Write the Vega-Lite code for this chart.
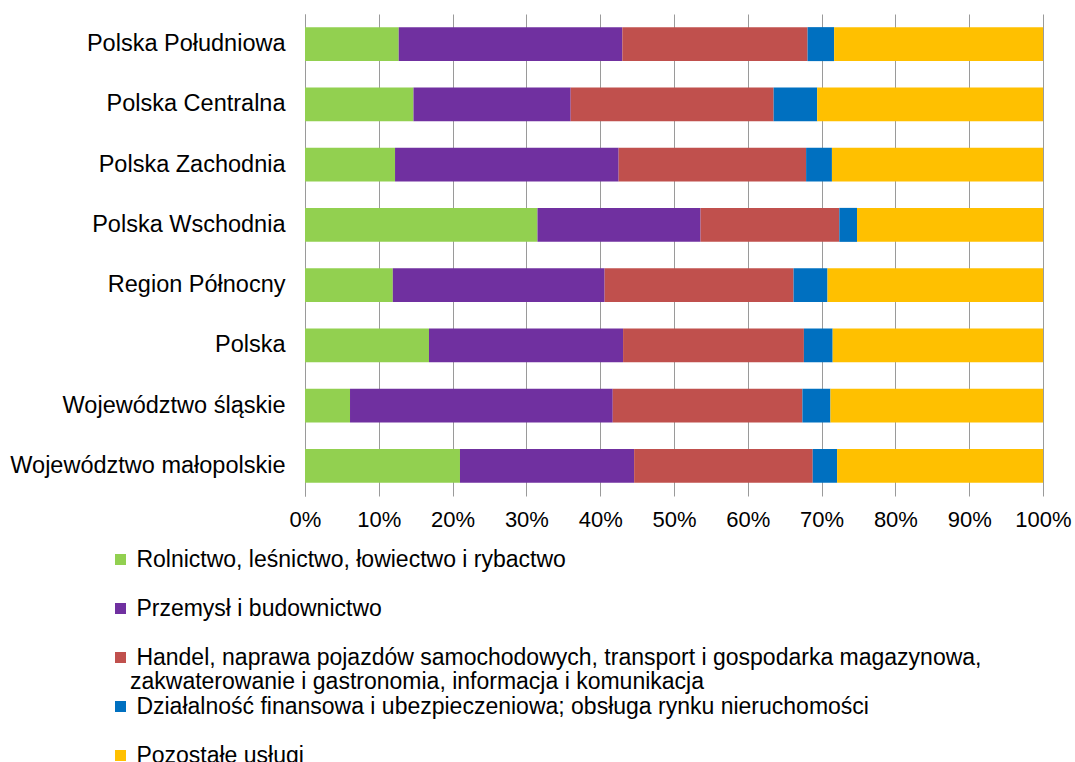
{
  "$schema": "https://vega.github.io/schema/vega-lite/v6.json",
  "width": 738,
  "height": 482,
  "autosize": "none",
  "padding": {"left": 305, "top": 14, "right": 32, "bottom": 266},
  "background": "white",
  "config": {"view": {"stroke": null}, "font": "Liberation Sans"},
  "datasets": {
    "rows": [
      {"region": "Polska Południowa", "k": 1, "sector": "Rolnictwo, leśnictwo, łowiectwo i rybactwo", "value": 12.7},
      {"region": "Polska Południowa", "k": 2, "sector": "Przemysł i budownictwo", "value": 30.3},
      {"region": "Polska Południowa", "k": 3, "sector": "Handel, naprawa pojazdów samochodowych, transport i gospodarka magazynowa, zakwaterowanie i gastronomia, informacja i komunikacja", "value": 25.1},
      {"region": "Polska Południowa", "k": 4, "sector": "Działalność finansowa i ubezpieczeniowa; obsługa rynku nieruchomości", "value": 3.6},
      {"region": "Polska Południowa", "k": 5, "sector": "Pozostałe usługi", "value": 28.3},
      {"region": "Polska Centralna", "k": 1, "sector": "Rolnictwo, leśnictwo, łowiectwo i rybactwo", "value": 14.7},
      {"region": "Polska Centralna", "k": 2, "sector": "Przemysł i budownictwo", "value": 21.3},
      {"region": "Polska Centralna", "k": 3, "sector": "Handel, naprawa pojazdów samochodowych, transport i gospodarka magazynowa, zakwaterowanie i gastronomia, informacja i komunikacja", "value": 27.5},
      {"region": "Polska Centralna", "k": 4, "sector": "Działalność finansowa i ubezpieczeniowa; obsługa rynku nieruchomości", "value": 5.9},
      {"region": "Polska Centralna", "k": 5, "sector": "Pozostałe usługi", "value": 30.6},
      {"region": "Polska Zachodnia", "k": 1, "sector": "Rolnictwo, leśnictwo, łowiectwo i rybactwo", "value": 12.2},
      {"region": "Polska Zachodnia", "k": 2, "sector": "Przemysł i budownictwo", "value": 30.3},
      {"region": "Polska Zachodnia", "k": 3, "sector": "Handel, naprawa pojazdów samochodowych, transport i gospodarka magazynowa, zakwaterowanie i gastronomia, informacja i komunikacja", "value": 25.4},
      {"region": "Polska Zachodnia", "k": 4, "sector": "Działalność finansowa i ubezpieczeniowa; obsługa rynku nieruchomości", "value": 3.5},
      {"region": "Polska Zachodnia", "k": 5, "sector": "Pozostałe usługi", "value": 28.6},
      {"region": "Polska Wschodnia", "k": 1, "sector": "Rolnictwo, leśnictwo, łowiectwo i rybactwo", "value": 31.5},
      {"region": "Polska Wschodnia", "k": 2, "sector": "Przemysł i budownictwo", "value": 22.1},
      {"region": "Polska Wschodnia", "k": 3, "sector": "Handel, naprawa pojazdów samochodowych, transport i gospodarka magazynowa, zakwaterowanie i gastronomia, informacja i komunikacja", "value": 18.8},
      {"region": "Polska Wschodnia", "k": 4, "sector": "Działalność finansowa i ubezpieczeniowa; obsługa rynku nieruchomości", "value": 2.4},
      {"region": "Polska Wschodnia", "k": 5, "sector": "Pozostałe usługi", "value": 25.2},
      {"region": "Region Północny", "k": 1, "sector": "Rolnictwo, leśnictwo, łowiectwo i rybactwo", "value": 11.9},
      {"region": "Region Północny", "k": 2, "sector": "Przemysł i budownictwo", "value": 28.7},
      {"region": "Region Północny", "k": 3, "sector": "Handel, naprawa pojazdów samochodowych, transport i gospodarka magazynowa, zakwaterowanie i gastronomia, informacja i komunikacja", "value": 25.6},
      {"region": "Region Północny", "k": 4, "sector": "Działalność finansowa i ubezpieczeniowa; obsługa rynku nieruchomości", "value": 4.6},
      {"region": "Region Północny", "k": 5, "sector": "Pozostałe usługi", "value": 29.2},
      {"region": "Polska", "k": 1, "sector": "Rolnictwo, leśnictwo, łowiectwo i rybactwo", "value": 16.8},
      {"region": "Polska", "k": 2, "sector": "Przemysł i budownictwo", "value": 26.3},
      {"region": "Polska", "k": 3, "sector": "Handel, naprawa pojazdów samochodowych, transport i gospodarka magazynowa, zakwaterowanie i gastronomia, informacja i komunikacja", "value": 24.5},
      {"region": "Polska", "k": 4, "sector": "Działalność finansowa i ubezpieczeniowa; obsługa rynku nieruchomości", "value": 3.9},
      {"region": "Polska", "k": 5, "sector": "Pozostałe usługi", "value": 28.5},
      {"region": "Województwo śląskie", "k": 1, "sector": "Rolnictwo, leśnictwo, łowiectwo i rybactwo", "value": 6.1},
      {"region": "Województwo śląskie", "k": 2, "sector": "Przemysł i budownictwo", "value": 35.6},
      {"region": "Województwo śląskie", "k": 3, "sector": "Handel, naprawa pojazdów samochodowych, transport i gospodarka magazynowa, zakwaterowanie i gastronomia, informacja i komunikacja", "value": 25.7},
      {"region": "Województwo śląskie", "k": 4, "sector": "Działalność finansowa i ubezpieczeniowa; obsługa rynku nieruchomości", "value": 3.8},
      {"region": "Województwo śląskie", "k": 5, "sector": "Pozostałe usługi", "value": 28.8},
      {"region": "Województwo małopolskie", "k": 1, "sector": "Rolnictwo, leśnictwo, łowiectwo i rybactwo", "value": 21.0},
      {"region": "Województwo małopolskie", "k": 2, "sector": "Przemysł i budownictwo", "value": 23.6},
      {"region": "Województwo małopolskie", "k": 3, "sector": "Handel, naprawa pojazdów samochodowych, transport i gospodarka magazynowa, zakwaterowanie i gastronomia, informacja i komunikacja", "value": 24.2},
      {"region": "Województwo małopolskie", "k": 4, "sector": "Działalność finansowa i ubezpieczeniowa; obsługa rynku nieruchomości", "value": 3.3},
      {"region": "Województwo małopolskie", "k": 5, "sector": "Pozostałe usługi", "value": 27.9}
    ]
  },
  "data": {"name": "rows"},
  "mark": {"type": "bar"},
  "encoding": {
    "y": {
      "field": "region",
      "type": "nominal",
      "sort": ["Polska Południowa", "Polska Centralna", "Polska Zachodnia", "Polska Wschodnia", "Region Północny", "Polska", "Województwo śląskie", "Województwo małopolskie"],
      "scale": {"paddingInner": 0.436, "paddingOuter": 0.218},
      "axis": {"title": null, "ticks": false, "labelFontSize": 23.5, "labelColor": "#000000", "labelPadding": 20, "domainColor": "#9a9a9a", "domainWidth": 1, "labelLimit": 400}
    },
    "x": {
      "field": "value",
      "type": "quantitative",
      "stack": "normalize",
      "scale": {"domain": [0, 1]},
      "axis": {"title": null, "format": ".0%", "values": [0, 0.1, 0.2, 0.3, 0.4, 0.5, 0.6, 0.7, 0.8, 0.9, 1], "grid": true, "gridColor": "#9a9a9a", "gridWidth": 1, "domain": false, "ticks": false, "tickSize": 0, "labelFontSize": 22, "labelColor": "#000000", "labelPadding": 13, "labelFlush": false, "labelOverlap": false}
    },
    "color": {
      "field": "sector",
      "type": "nominal",
      "scale": {
        "domain": ["Rolnictwo, leśnictwo, łowiectwo i rybactwo", "Przemysł i budownictwo", "Handel, naprawa pojazdów samochodowych, transport i gospodarka magazynowa, zakwaterowanie i gastronomia, informacja i komunikacja", "Działalność finansowa i ubezpieczeniowa; obsługa rynku nieruchomości", "Pozostałe usługi"],
        "range": ["#92D050", "#7030A0", "#C0504D", "#0070C0", "#FFC000"]
      },
      "legend": {
        "title": null,
        "orient": "none",
        "legendX": -196,
        "legendY": 534,
        "direction": "vertical",
        "symbolType": "square",
        "symbolSize": 121,
        "symbolStrokeWidth": 0,
        "labelFontSize": 23,
        "labelColor": "#000000",
        "labelLimit": 1000,
        "labelOffset": -2,
        "rowPadding": 1,
        "padding": 0,
        "labelExpr": "indexof(datum.label, ' zakwaterowanie') > 0 ? ['\\u200b\\u00a0' + slice(datum.label, 0, indexof(datum.label, ' zakwaterowanie')), slice(datum.label, indexof(datum.label, ' zakwaterowanie') + 1)] : ['\\u200b\\u00a0' + datum.label, '']",
        "encode": {"labels": {"update": {"lineHeight": {"value": 24}}}}
      }
    },
    "order": {"field": "k", "type": "quantitative"}
  }
}
